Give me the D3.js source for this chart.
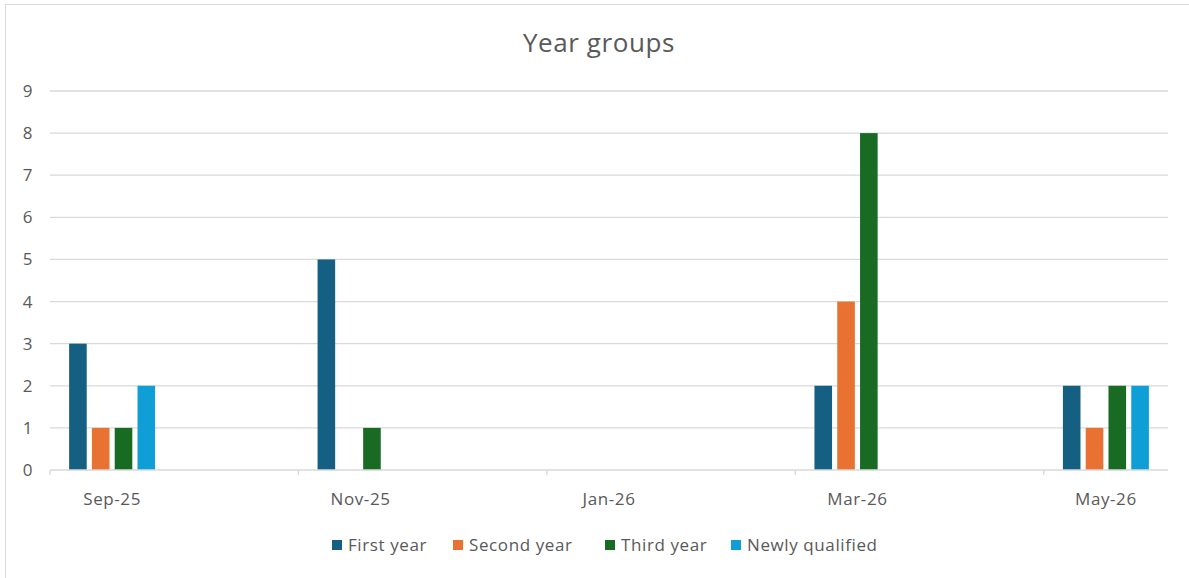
<!DOCTYPE html>
<html>
<head>
<meta charset="utf-8">
<script src="https://cdn.jsdelivr.net/npm/d3@7"></script>
<style>
    body { margin: 0; background: #fff; }
    text { font-family: "Open Sans", sans-serif; fill: #595959; letter-spacing: 0.6px; }
</style>
</head>
<body>
<svg id="chart"></svg>
<script>
// monthly slots on the date axis, labels every second month
const months = ["Sep-25", "Oct-25", "Nov-25", "Dec-25", "Jan-26", "Feb-26", "Mar-26", "Apr-26", "May-26"];
const tickLabels = ["Sep-25", "Nov-25", "Jan-26", "Mar-26", "May-26"];

const dates = ["Sep-25", "Nov-25", "Jan-26", "Mar-26", "May-26"];
const series = ["First year", "Second year", "Third year", "Newly qualified"];
const firstYear = [3, 5, 0, 2, 2];
const secondYear = [1, 0, 0, 4, 1];
const thirdYear = [1, 1, 0, 8, 2];
const newlyQualified = [2, 0, 0, 0, 2];
const yTicks = [0, 1, 2, 3, 4, 5, 6, 7, 8, 9];

const colors = ["#156082", "#E97132", "#196B24", "#0F9ED5"];

const width = 1189, height = 578;
const margin = { top: 91, right: 21, bottom: 108, left: 50 };

const svg = d3.select("#chart").attr("width", width).attr("height", height);

// chart area border (only left/top visible in the frame)
svg.append("rect")
    .attr("x", 5.5).attr("y", 4.5)
    .attr("width", width + 10).attr("height", height + 10)
    .attr("fill", "none").attr("stroke", "#d9d9d9");

svg.append("text")
    .attr("x", 599).attr("y", 52)
    .attr("text-anchor", "middle")
    .style("font-size", "26px")
    .text("Year groups");

const values = [firstYear, secondYear, thirdYear, newlyQualified];
const table = dates.map((d, i) => ({ date: d, vals: series.map((s, j) => ({ key: s, value: values[j][i], idx: j })) }));

const x0 = d3.scaleBand().domain(months)
    .range([margin.left, width - margin.right])
    .paddingInner(0.266).paddingOuter(0.133);
const x1 = d3.scaleBand().domain(series)
    .range([0, x0.bandwidth()])
    .paddingInner(0.228).paddingOuter(0.114);
const y = d3.scaleLinear().domain([0, 9]).range([height - margin.bottom, margin.top]);

// gridlines
svg.append("g")
    .selectAll("line")
    .data(yTicks.filter(d => d > 0))
    .join("line")
    .attr("x1", margin.left).attr("x2", width - margin.right)
    .attr("y1", d => y(d)).attr("y2", d => y(d))
    .attr("stroke", "#d9d9d9").attr("stroke-width", 1.3);

// y labels
svg.append("g")
    .selectAll("text")
    .data(yTicks)
    .join("text")
    .attr("x", 33).attr("y", d => y(d))
    .attr("dy", "0.35em")
    .attr("text-anchor", "end")
    .style("font-size", "17px")
    .text(d => d);

// bars
svg.append("g")
    .selectAll("g")
    .data(table)
    .join("g")
    .attr("transform", d => `translate(${x0(d.date)},0)`)
    .selectAll("rect")
    .data(d => d.vals)
    .join("rect")
    .attr("x", d => x1(d.key))
    .attr("width", x1.bandwidth())
    .attr("y", d => y(d.value))
    .attr("height", d => y(0) - y(d.value))
    .attr("fill", d => colors[d.idx]);

// x axis line and ticks at the slot boundaries
const step = x0.step();
const slotStart = m => x0(m) - x0.paddingOuter() * step;
const xAxis = svg.append("g");
xAxis.append("line")
    .attr("x1", margin.left).attr("x2", width - margin.right)
    .attr("y1", y(0)).attr("y2", y(0))
    .attr("stroke", "#d9d9d9").attr("stroke-width", 1.3);
xAxis.selectAll(".tick")
    .data(tickLabels)
    .join("line")
    .attr("class", "tick")
    .attr("x1", d => slotStart(d)).attr("x2", d => slotStart(d))
    .attr("y1", y(0)).attr("y2", y(0) + 5)
    .attr("stroke", "#d9d9d9").attr("stroke-width", 1.3);
xAxis.selectAll("text")
    .data(tickLabels)
    .join("text")
    .attr("x", d => x0(d) + x0.bandwidth() / 2)
    .attr("y", 505)
    .attr("text-anchor", "middle")
    .style("font-size", "17px")
    .text(d => d);

// legend
const legendX = [332, 453, 605, 731];
const legend = svg.append("g")
    .selectAll("g")
    .data(series)
    .join("g")
    .attr("transform", (d, i) => `translate(${legendX[i]},545)`);
legend.append("rect")
    .attr("x", 0).attr("y", -5)
    .attr("width", 10).attr("height", 10)
    .attr("fill", (d, i) => colors[i]);
legend.append("text")
    .attr("x", 16).attr("y", 0)
    .attr("dy", "0.35em")
    .style("font-size", "17px")
    .text(d => d);
</script>
</body>
</html>
